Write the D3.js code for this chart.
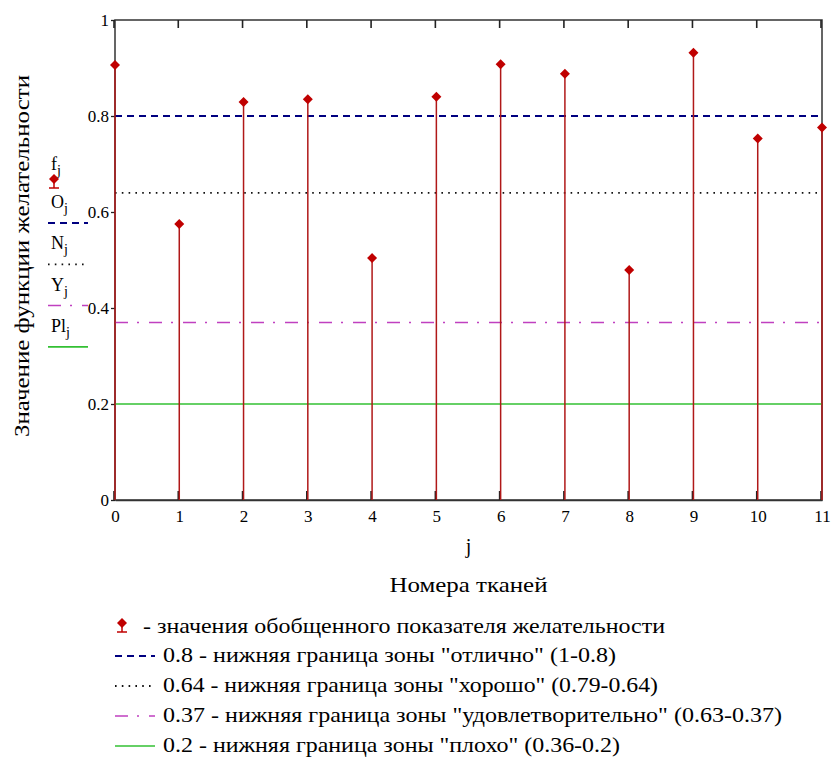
<!DOCTYPE html>
<html><head><meta charset="utf-8">
<script src="https://cdn.jsdelivr.net/npm/d3@7"></script>
<style>body{margin:0;background:#fff}</style>
</head><body>
<svg id="c" width="833" height="758"></svg>
<script>
const jValues = [0,1,2,3,4,5,6,7,8,9,10,11];
const fValues = [0.906,0.575,0.829,0.835,0.504,0.840,0.908,0.888,0.479,0.932,0.753,0.776];
const yTicks = [0,0.2,0.4,0.6,0.8,1];
const yTickLabels = ["0","0.2","0.4","0.6","0.8","1"];
const levelValues = [0.8,0.64,0.37,0.2];
const levelNames = ["O","N","Y","Pl"];
const levelLegend = [
  '0.8 - нижняя граница зоны "отлично" (1-0.8)',
  '0.64 - нижняя граница зоны "хорошо" (0.79-0.64)',
  '0.37 - нижняя граница зоны "удовлетворительно" (0.63-0.37)',
  '0.2 - нижняя граница зоны "плохо" (0.36-0.2)'
];
const pointLegend = "- значения обобщенного показателя желательности";
const yTitle = "Значение функции желательности";
const xTitle = "Номера тканей";

const FONT = "Liberation Serif";
const levelStyles = [
  {color:"#000080", dash:"7,5", w:2.2},
  {color:"#111", dash:"1.6,5.2", w:1.8},
  {color:"#c040c0", dash:"13,9,2,10", w:1.5},
  {color:"#33c033", dash:null, w:1.6}
];
const legendWidths = [453, 495, 619, 457];
const stemColor = "#b01818", markColor = "#c00000";

const svg = d3.select("#c");
const x = d3.scaleLinear().domain([0,11]).range([115,822]);
const y = d3.scaleLinear().domain([0,1]).range([500,20]);

function txt(g, xx, yy, s, size){
  return g.append("text").attr("x",xx).attr("y",yy).style("font-family",FONT)
    .attr("font-size",size).attr("fill","#000").text(s);
}

// frame
svg.append("rect").attr("x",x(0)).attr("y",y(1)).attr("width",x(11)-x(0)).attr("height",y(0)-y(1))
  .attr("fill","none").attr("stroke","#333").attr("stroke-width",1.5);

// inner ticks top and bottom
svg.append("g").selectAll("line").data(jValues).join("line")
  .attr("x1",d=>x(d)-1).attr("x2",d=>x(d)-1).attr("y1",y(1)).attr("y2",y(1)+8)
  .attr("stroke","#222").attr("stroke-width",1.6);
svg.append("g").selectAll("line").data(jValues).join("line")
  .attr("x1",d=>x(d)-1).attr("x2",d=>x(d)-1).attr("y1",y(0)).attr("y2",y(0)-9)
  .attr("stroke","#222").attr("stroke-width",1.6);

// y axis
const ya = svg.append("g").attr("transform",`translate(${x(0)},0)`)
  .call(d3.axisLeft(y).tickValues(yTicks).tickSize(4).tickPadding(2)
    .tickFormat((d,i)=>yTickLabels[i]));
ya.attr("font-family",null);
ya.select(".domain").remove();
ya.selectAll("line").attr("stroke","#222").attr("stroke-width",1.3);
ya.selectAll("text").style("font-family",FONT).attr("font-size",17).attr("fill","#000");

// x axis labels
const xa = svg.append("g").attr("transform",`translate(0,${y(0)})`)
  .call(d3.axisBottom(x).tickValues(jValues).tickSize(0).tickPadding(10).tickFormat(d3.format("d")));
xa.attr("font-family",null);
xa.select(".domain").attr("stroke","#333").attr("stroke-width",1.5);
xa.selectAll("text").style("font-family",FONT).attr("font-size",17).attr("fill","#000");

// level lines
svg.append("g").selectAll("line").data(levelValues).join("line")
  .attr("x1",x(0)).attr("x2",x(11)).attr("y1",d=>y(d)).attr("y2",d=>y(d))
  .attr("stroke",(d,i)=>levelStyles[i].color).attr("stroke-width",(d,i)=>levelStyles[i].w)
  .attr("stroke-dasharray",(d,i)=>levelStyles[i].dash);

// stems
svg.append("g").selectAll("line").data(fValues).join("line")
  .attr("x1",(d,i)=>x(jValues[i])).attr("x2",(d,i)=>x(jValues[i]))
  .attr("y1",y(0)).attr("y2",d=>y(d))
  .attr("stroke",stemColor).attr("stroke-width",1.5);

// markers
const diamond = (cx,cy,r)=>`M${cx},${cy-r}L${cx+r},${cy}L${cx},${cy+r}L${cx-r},${cy}Z`;
svg.append("g").selectAll("path").data(fValues).join("path")
  .attr("d",(d,i)=>diamond(x(jValues[i]),y(d),5))
  .attr("fill",markColor);

// axis titles
txt(svg,(x(0)+x(11))/2,553,"j",20).attr("text-anchor","middle");
txt(svg,(x(0)+x(11))/2,592,xTitle,21).attr("text-anchor","middle")
  .attr("textLength",158).attr("lengthAdjust","spacingAndGlyphs");
svg.append("text").attr("transform",`translate(29,256) rotate(-90)`)
  .style("font-family",FONT).attr("font-size",21).attr("text-anchor","middle")
  .attr("textLength",362).attr("lengthAdjust","spacingAndGlyphs").text(yTitle);

// left trace labels
function markerSymbol(g,cx,cy){
  g.append("line").attr("x1",cx).attr("x2",cx).attr("y1",cy).attr("y2",cy+9).attr("stroke",markColor).attr("stroke-width",1.5);
  g.append("line").attr("x1",cx-5).attr("x2",cx+5).attr("y1",cy+9).attr("y2",cy+9).attr("stroke",markColor).attr("stroke-width",1.5);
  g.append("path").attr("d",diamond(cx,cy,5)).attr("fill",markColor);
}
const lg = svg.append("g");
function sublabel(g,xx,yy,main){
  const t=g.append("text").attr("x",xx).attr("y",yy).style("font-family",FONT).attr("font-size",18);
  t.append("tspan").text(main);
  t.append("tspan").attr("dy",5).attr("font-size",14).text("j");
}
sublabel(lg,51,170,"f");
markerSymbol(lg,54,179);
levelNames.forEach((n,i)=>{
  const ty = 208 + i*41.3;
  sublabel(lg,51,ty,n);
  lg.append("line").attr("x1",48).attr("x2",88).attr("y1",ty+15).attr("y2",ty+15)
    .attr("stroke",levelStyles[i].color).attr("stroke-width",levelStyles[i].w)
    .attr("stroke-dasharray",levelStyles[i].dash);
});

// bottom legend
const bl = svg.append("g");
markerSymbol(bl,122,623);
txt(bl,143,633,pointLegend,21).attr("textLength",522).attr("lengthAdjust","spacingAndGlyphs");
levelLegend.forEach((t,i)=>{
  const base = 662 + i*30;
  bl.append("line").attr("x1",115).attr("x2",155).attr("y1",base-6).attr("y2",base-6)
    .attr("stroke",levelStyles[i].color).attr("stroke-width",levelStyles[i].w)
    .attr("stroke-dasharray",levelStyles[i].dash);
  txt(bl,163,base,t,21).attr("textLength",legendWidths[i]).attr("lengthAdjust","spacingAndGlyphs");
});
</script>
</body></html>
